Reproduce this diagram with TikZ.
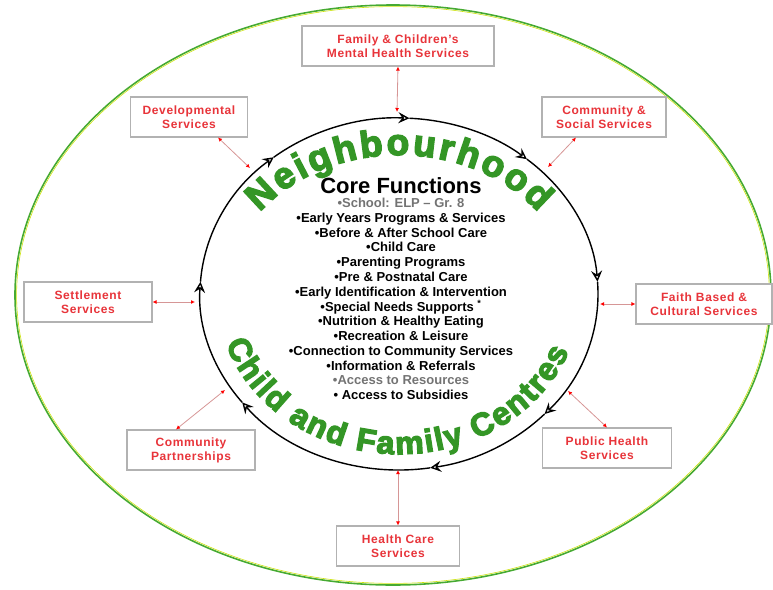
\documentclass[tikz,border=0pt]{standalone}
\usepackage{fontspec}
\setmainfont{Liberation Sans}
\newfontfamily\hoodfont{Liberation Sans Bold}[FakeBold=4]
\newfontfamily\boxfont{Liberation Sans Bold}[LetterSpace=5]
\usetikzlibrary{arrows.meta,calc,decorations.text}

\definecolor{hoodgreen}{RGB}{52,150,38}
\definecolor{boxred}{RGB}{232,52,58}
\definecolor{linkpink}{RGB}{214,150,150}
\definecolor{rimgreen}{RGB}{70,170,50}

\newcommand\rx{199}
\newcommand\ry{176}

\tikzset{
  service/.style={draw=black!30, line width=1.1pt, fill=white, text=boxred,
    font=\boxfont\fontsize{12}{14}\selectfont, align=center, minimum height=40pt, inner sep=2pt},
  link/.style={linkpink, line width=0.8pt,
    {Latex[red,length=4pt,width=4pt]}-{Latex[red,length=4pt,width=4pt]}},
  ringarc/.style={line width=1.4pt, -{Stealth[open,fill=white,length=11pt,width=11pt,inset=4pt]}},
}

\begin{document}
\begin{tikzpicture}[x=1pt,y=1pt]
  \useasboundingbox (0,0) rectangle (773,-589);
  % outer rim
  \draw[rimgreen, line width=1.6pt] (393,-295) ellipse [x radius=378, y radius=290];
  \draw[yellow!80!green, line width=0.6pt] (393,-295) ellipse [x radius=376.4, y radius=288.4];

  % ring of core functions
  \coordinate (ring) at (399,-294);
  \foreach \a/\b in {129/87, 87/50, 50/4, 4/-43, -43/-81, -81/-142, -142/-184, 176/129}{
    \draw[ringarc] ($(ring)+(\a:{\rx} and {\ry})$) arc[start angle=\a, end angle=\b, x radius=\rx, y radius=\ry];}

  % curved titles
  \path[decorate, decoration={text along path, text align={fit to path}, text color=hoodgreen,
      text={|\hoodfont\fontsize{37}{37}\selectfont|Neighbourhood}}]
    ($(ring)+(144:172 and 139)$) arc[start angle=144, end angle=36, x radius=172, y radius=139];
  \path[decorate, decoration={text along path, text align={fit to path}, text color=hoodgreen,
      text={|\hoodfont\fontsize{32}{32}\selectfont|Child and Family Centres}}]
    ($(ring)+(198:182 and 160)$) arc[start angle=198, end angle=339, x radius=182, y radius=160];

  % core functions
  \node[font=\bfseries\fontsize{22}{24}\selectfont] (core) at (401,-186) {Core Functions};
  \node[font=\bfseries\fontsize{13}{14.77}\selectfont, align=center, anchor=north, inner sep=0pt]
    (list) at (401,-198) {\textcolor{black!55}{•School: ELP – Gr. 8}\\
    •Early Years Programs \& Services\\
    •Before \& After School Care\\
    •Child Care\\
    •Parenting Programs\\
    •Pre \& Postnatal Care\\
    •Early Identification \& Intervention\\
    •Special Needs Supports \textsuperscript{*}\\
    •Nutrition \& Healthy Eating\\
    •Recreation \& Leisure\\
    •Connection to Community Services\\
    •Information \& Referrals\\
    \textcolor{black!55}{•Access to Resources}\\
    • Access to Subsidies};

  % services
  \node[service, minimum width=192pt] (famh) at (398,-46) {Family \& Children’s\\Mental Health Services};
  \node[service, minimum width=117pt] (dev) at (189,-117) {Developmental\\Services};
  \node[service, minimum width=124pt] (comm) at (604,-117) {Community \&\\Social Services};
  \node[service, minimum width=128pt] (sett) at (88,-302) {Settlement\\Services};
  \node[service, minimum width=136pt] (faith) at (704,-304) {Faith Based \&\\Cultural Services};
  \node[service, minimum width=128pt] (cpart) at (191,-450) {Community\\Partnerships};
  \node[service, minimum width=129pt] (pub) at (607,-448) {Public Health\\Services};
  \node[service, minimum width=123pt] (hcare) at (398,-546) {Health Care\\Services};

  % links to the ring
  \coordinate (famhring) at (397,-112);
  \coordinate (devring) at (250,-168);
  \coordinate (commring) at (548,-167);
  \coordinate (settring) at (195,-302);
  \coordinate (faithring) at (600,-304);
  \coordinate (cpartring) at (225,-390);
  \coordinate (pubring) at (568,-391);
  \coordinate (hcarering) at (398,-470);
  \draw[link] (famh.south) -- (famhring);
  \draw[link] ([xshift=29pt]dev.south) -- (devring);
  \draw[link] ([xshift=-28pt]comm.south) -- (commring);
  \draw[link] (sett.east) -- (settring);
  \draw[link] (faith.west) -- (faithring);
  \draw[link] ([xshift=-15pt]cpart.north) -- (cpartring);
  \draw[link] (pub.north) -- (pubring);
  \draw[link] (hcare.north) -- (hcarering);
\end{tikzpicture}
\end{document}
